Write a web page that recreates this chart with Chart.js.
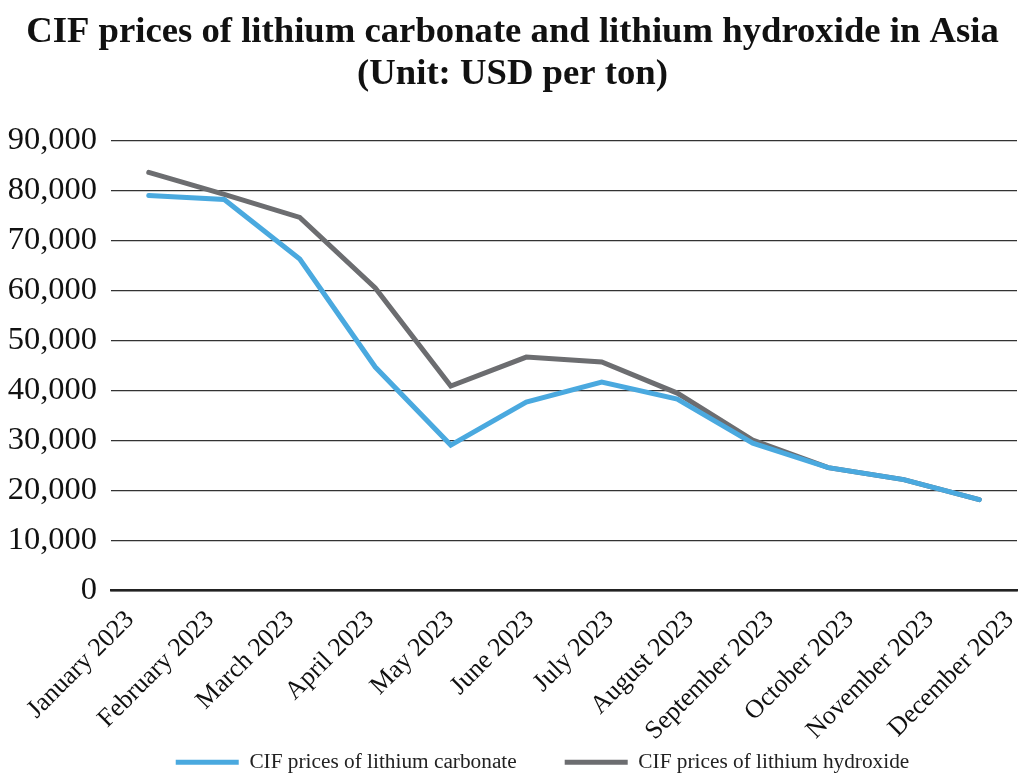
<!DOCTYPE html>
<html>
<head>
<meta charset="utf-8">
<script src="https://cdn.jsdelivr.net/npm/chart.js@4"></script>
<style>
  html, body { margin: 0; padding: 0; background: #fff; }
  #wrap { width: 1018px; height: 773px; }
</style>
</head>
<body>
<div id="wrap"><canvas id="myChart" width="1018" height="773"></canvas></div>
<script>
const months = ['January 2023', 'February 2023', 'March 2023', 'April 2023', 'May 2023', 'June 2023',
    'July 2023', 'August 2023', 'September 2023', 'October 2023', 'November 2023', 'December 2023'];
const carbonatePrices = [79000, 78200, 66300, 44700, 29100, 37700, 41700, 38300, 29500, 24600, 22200, 18200];
const hydroxidePrices = [83600, 79200, 74600, 60500, 40900, 46700, 45700, 39500, 30100, 24600, 22200, 18200];
const yTicks = [0, 10000, 20000, 30000, 40000, 50000, 60000, 70000, 80000, 90000];

const serif = "'Liberation Serif', 'Times New Roman', serif";

// the legend's padding gives the wide gap between its two items;
// shrink the box it asks for and start it higher so it hugs the month labels
const legendSpacing = {
    id: 'legendSpacing',
    beforeInit(chart) {
        const fit = chart.legend.fit;
        chart.legend.fit = function () {
            fit.call(this);
            this.height -= 45;
        };
    },
    afterLayout(chart) {
        chart.legend.top -= 35;
        chart.legend.left += 60;
    }
};

new Chart(document.getElementById('myChart'), {
    type: 'line',
    data: {
        labels: months,
        datasets: [{
            label: 'CIF prices of lithium carbonate',
            data: carbonatePrices,
            borderColor: '#4aa9df',
            backgroundColor: '#4aa9df',
            borderWidth: 5,
            borderCapStyle: 'round',
            pointRadius: 0,
            tension: 0
        }, {
            label: 'CIF prices of lithium hydroxide',
            data: hydroxidePrices,
            borderColor: '#6c6d70',
            backgroundColor: '#6c6d70',
            borderWidth: 5,
            borderCapStyle: 'round',
            pointRadius: 0,
            tension: 0
        }]
    },
    options: {
        responsive: false,
        animation: false,
        layout: { padding: { left: 8, right: 1, top: 11, bottom: 0 } },
        plugins: {
            title: {
                display: true,
                text: ['CIF prices of lithium carbonate and lithium hydroxide in Asia', '(Unit: USD per ton)'],
                color: '#111',
                font: { family: serif, size: 36.7, weight: 'bold', lineHeight: 1.15 },
                padding: { top: 0, bottom: 45 }
            },
            legend: {
                position: 'bottom',
                labels: {
                    color: '#222',
                    font: { family: serif, size: 21.3 },
                    usePointStyle: true,
                    pointStyle: 'line',
                    pointStyleWidth: 63,
                    padding: 48
                }
            },
            tooltip: { enabled: false }
        },
        scales: {
            x: {
                offset: true,
                grid: { display: false },
                border: { display: true, color: '#222', width: 2.5 },
                ticks: { display: false },
                afterFit: (axis) => {
                    axis.height = 0;
                }
            },
            // month names sit on their own axis, spread a little wider than the points
            months: {
                type: 'linear',
                position: 'bottom',
                weight: 1,
                min: -0.24,
                max: 11.09,
                grid: { display: false },
                border: { display: false },
                afterBuildTicks: (axis) => {
                    axis.ticks = months.map((m, i) => ({ value: i }));
                },
                afterFit: (axis) => {
                    axis.height = 148;
                    // let the long last label run past the plot edge instead of squeezing it
                    axis.paddingLeft = 0;
                    axis.paddingRight = 0;
                },
                ticks: {
                    color: '#111',
                    font: { family: serif, size: 26 },
                    minRotation: 45,
                    maxRotation: 45,
                    autoSkip: false,
                    padding: 6,
                    callback: (v) => months[v]
                }
            },
            y: {
                min: 0,
                max: 90000,
                afterBuildTicks: (axis) => {
                    axis.ticks = yTicks.map(v => ({ value: v }));
                },
                afterFit: (axis) => {
                    axis.width = 103;
                },
                border: { display: false },
                grid: {
                    color: '#333',
                    lineWidth: 1.3,
                    drawTicks: false
                },
                ticks: {
                    color: '#111',
                    font: { family: serif, size: 32.5 },
                    padding: 14,
                    callback: (v) => v.toLocaleString('en-US')
                }
            }
        }
    },
    plugins: [legendSpacing]
});
</script>
</body>
</html>
